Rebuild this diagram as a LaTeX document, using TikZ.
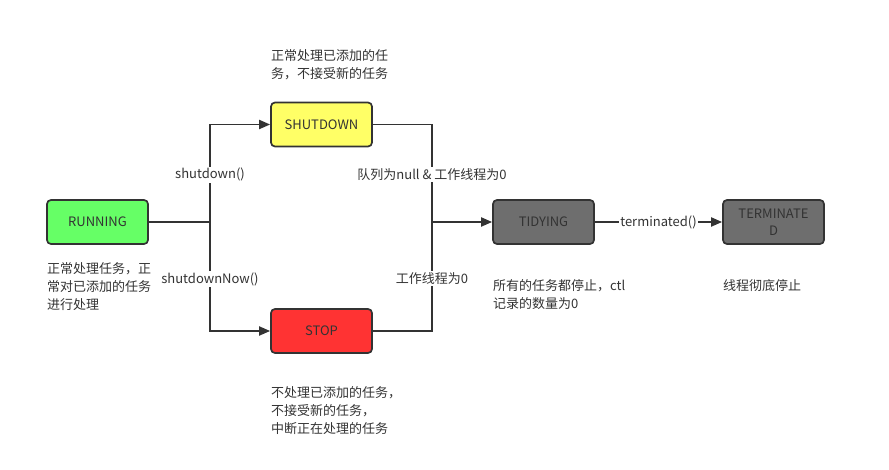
\documentclass[tikz,border=0pt]{standalone}
\usepackage{fontspec}
\setmainfont{Noto Sans CJK SC}
\usetikzlibrary{arrows.meta}
\definecolor{lineC}{HTML}{333333}
\definecolor{txtC}{HTML}{333333}
\definecolor{runC}{HTML}{66FF66}
\definecolor{shutC}{HTML}{FFFF66}
\definecolor{stopC}{HTML}{FF3333}
\definecolor{greyC}{HTML}{6E6E6E}
\tikzset{
  statebox/.style={draw=lineC, line width=1.7pt, rounded corners=4pt,
    minimum width=101pt, minimum height=44pt, inner sep=0pt,
    font=\fontsize{13}{17}\selectfont, text=txtC},
  conn/.style={draw=lineC, line width=1.9pt},
  arr/.style={conn, -{Triangle[length=11pt,width=9pt]}},
  lbl/.style={fill=white, inner sep=1.5pt, font=\fontsize{13}{17}\selectfont, text=txtC},
  note/.style={anchor=base west, inner sep=0pt, font=\fontsize{13}{18}\selectfont, text=txtC}
}
\begin{document}
\begin{tikzpicture}[x=1pt,y=-1pt]
\useasboundingbox[fill=white] (0,0) rectangle (889,470);
\node[statebox, fill=runC] (run) at (97.5,222) {RUNNING};
\node[statebox, fill=shutC] (shut) at (321.5,124.5) {SHUTDOWN};
\node[statebox, fill=stopC] (stop) at (321.5,331) {STOP};
\node[statebox, fill=greyC] (tidy) at (543.5,222) {TIDYING};
\node[statebox, fill=greyC, align=center] (term) at (773.5,222) {TERMINATE\\D};
\coordinate (j1) at (210,222);
\coordinate (j2) at (432,222);
\draw[conn] (run.east) -- (j1);
\draw[arr] (j1) |- node[pos=0.25, lbl, yshift=-1.5pt] (l1) {shutdown()} (shut.west);
\draw[arr] (j1) |- node[pos=0.25, lbl, yshift=-2.5pt] (l2) {shutdownNow()} (stop.west);
\draw[conn] (shut.east) -| node[pos=0.75, lbl, yshift=-1pt] (l3) {队列为null \& 工作线程为0} (j2);
\draw[conn] (stop.east) -| node[pos=0.75, lbl, yshift=-2pt] (l4) {工作线程为0} (j2);
\draw[arr] (j2) -- (tidy.west);
\draw[arr] (tidy.east) -- node[lbl, inner sep=1pt] (l5) {terminated()} (term.west);
\node[note] (n1) at (271,61) {\vtop{\hbox{正常处理已添加的任}\hbox{务，不接受新的任务}}};
\node[note] (n2) at (47,274) {\vtop{\hbox{正常处理任务，正}\hbox{常对已添加的任务}\hbox{进行处理}}};
\node[note] (n3) at (271,397) {\vtop{\hbox{不处理已添加的任务，}\hbox{不接受新的任务，}\hbox{中断正在处理的任务}}};
\node[note] (n4) at (493,291) {\vtop{\hbox{所有的任务都停止，ctl}\hbox{记录的数量为0}}};
\node[note] (n5) at (723,291) {线程彻底停止};
\end{tikzpicture}
\end{document}
